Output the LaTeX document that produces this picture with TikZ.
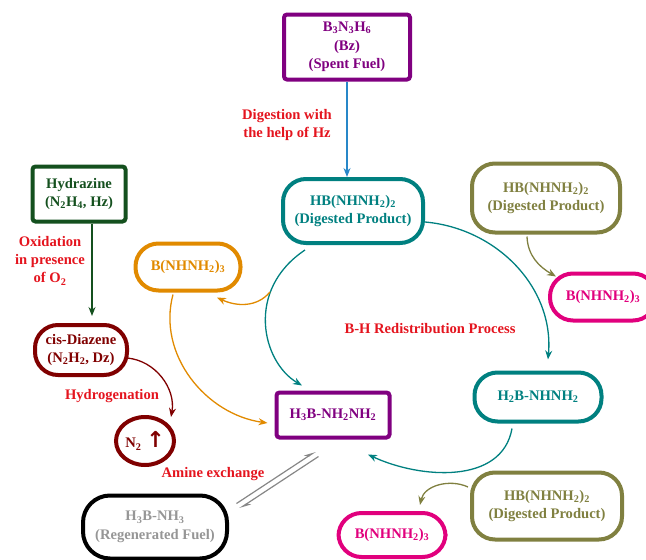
\documentclass[tikz,border=0pt]{standalone}
\usepackage{fontspec}
\setmainfont{Liberation Serif}
\newfontfamily\arrowfont{DejaVu Sans}
\usetikzlibrary{arrows.meta,shapes.geometric}
\newcommand{\chsub}[1]{\textsubscript{#1}}
\definecolor{fuelpurple}{RGB}{128,0,128}
\definecolor{digteal}{RGB}{0,128,128}
\definecolor{digblue}{RGB}{40,135,200}
\definecolor{hzgreen}{RGB}{20,80,30}
\definecolor{dzmaroon}{RGB}{128,0,0}
\definecolor{borange}{RGB}{225,138,0}
\definecolor{prodolive}{RGB}{128,128,64}
\definecolor{bmagenta}{RGB}{225,0,125}
\definecolor{labred}{RGB}{228,20,30}
\definecolor{fuelgray}{RGB}{150,150,150}
\tikzset{
  box/.style={draw, line width=4pt, align=center, inner sep=0pt,
    font=\fontsize{14.6}{18.5}\selectfont\bfseries},
  pill/.style={box, rounded corners=23pt},
  lbl/.style={text=labred, align=center, font=\fontsize{14.6}{18}\selectfont\bfseries},
  link/.style={line width=1.3pt, -{Stealth[length=9pt,width=7pt]}},
}
\begin{document}
\begin{tikzpicture}[x=1pt,y=1pt]
\useasboundingbox (0,0) rectangle (646,-560);
% boxes
\node[box, color=fuelpurple, rounded corners=3pt, minimum width=126pt, minimum height=65pt] (bz) at (347,-47) {B\chsub3N\chsub3H\chsub6\\(Bz)\\(Spent Fuel)};
\node[pill, color=digteal, minimum width=140pt, minimum height=64pt] (hbA) at (353,-211) {HB(NHNH\chsub2)\chsub2\\(Digested Product)};
\node[box, color=hzgreen, rounded corners=3pt, minimum width=93pt, minimum height=55pt] (hz) at (79,-194) {Hydrazine\\(N\chsub2H\chsub4, Hz)};
\node[pill, color=dzmaroon, minimum width=92pt, minimum height=50pt] (dz) at (81,-350) {cis-Diazene\\(N\chsub2H\chsub2, Dz)};
\node[box, ellipse, color=dzmaroon, minimum width=58pt, minimum height=48pt] (ntwo) at (145,-441) {N\chsub2\,\,{\arrowfont\fontsize{22}{22}\selectfont ↑}};
\node[pill, color=borange, minimum width=105pt, minimum height=47pt] (bo) at (188,-267) {B(NHNH\chsub2)\chsub3};
\node[box, color=fuelpurple, rounded corners=3pt, minimum width=113pt, minimum height=45pt] (hnh) at (333,-415) {H\chsub3B-NH\chsub2NH\chsub2};
\node[pill, color=digteal, minimum width=127pt, minimum height=49pt] (htwo) at (538,-397) {H\chsub2B-NHNH\chsub2};
\node[pill, color=prodolive, minimum width=148pt, minimum height=69pt] (hbB) at (546,-198) {HB(NHNH\chsub2)\chsub2\\(Digested Product)};
\node[pill, color=bmagenta, minimum width=106pt, minimum height=47pt] (bmA) at (603,-297) {B(NHNH\chsub2)\chsub3};
\node[pill, color=prodolive, minimum width=150pt, minimum height=67pt] (hbC) at (547,-506) {HB(NHNH\chsub2)\chsub2\\(Digested Product)};
\node[pill, color=bmagenta, minimum width=107pt, minimum height=44pt] (bmB) at (392,-535) {B(NHNH\chsub2)\chsub3};
\node[pill, draw=black, text=fuelgray, rounded corners=27pt, minimum width=144pt, minimum height=63pt] (amm) at (155,-527) {H\chsub3B-NH\chsub3\\(Regenerated Fuel)};
% labels
\node[lbl] (digest) at (287,-125) {Digestion with\\the help of Hz};
\node[lbl] (oxid) at (50,-261) {Oxidation\\in presence\\of O\chsub2};
\node[lbl] (hydro) at (112,-396) {Hydrogenation};
\node[lbl] (bhr) at (430,-329) {B-H Redistribution Process};
\node[lbl] (amine) at (213,-474) {Amine exchange};
% arrows
\draw[link, digblue] (bz.south) -- (bz.south |- hbA.north);
\draw[link, hzgreen] ([xshift=13pt]hz.south) -- ([xshift=13pt,yshift=7pt]hz.south |- dz.north);
\draw[link, dzmaroon] ([xshift=-2pt,yshift=-8pt]dz.east) to[out=-5,in=80] ([xshift=26pt,yshift=-2pt]ntwo.north);
\draw[link, digteal] ([xshift=24pt,yshift=-5pt]hbA.south west) .. controls (245,-290) and (262,-362) .. ([xshift=-31pt,yshift=5pt]hnh.north);
\draw[link, digteal] ([yshift=-11pt]hbA.east) to[out=-5,in=85] ([xshift=10pt,yshift=11pt]htwo.north);
\draw[link, digteal] ([xshift=-26pt,yshift=-5pt]htwo.south) to[out=-100,in=-25] ([xshift=35pt,yshift=-15pt]hnh.south);
\coordinate (split) at (270,-292);
\draw[link, borange] (split) to[out=-130,in=-25] ([xshift=29pt,yshift=-5pt]bo.south);
\draw[link, borange] ([xshift=-15pt,yshift=-2pt]bo.south) to[out=-105,in=172] ([xshift=-7pt,yshift=-8pt]hnh.west);
\draw[link, prodolive] ([xshift=-19pt,yshift=-2pt]hbB.south) to[out=-88,in=150] ([xshift=8pt,yshift=-5pt]bmA.north west);
\draw[link, prodolive] ([xshift=-2pt,yshift=19pt]hbC.west) to[out=155,in=78] ([xshift=28pt,yshift=6pt]bmB.north);
% equilibrium
\coordinate (eqlow) at (238,-506);
\coordinate (eqhigh) at (317,-454);
\draw[line width=1.2pt, fuelgray!90!black, -{Stealth[harpoon,length=10pt,width=6pt]}] ([shift={(-1.5pt,2.5pt)}]eqlow) -- ([shift={(-1.5pt,2.5pt)}]eqhigh);
\draw[line width=1.2pt, fuelgray!90!black, -{Stealth[harpoon,length=10pt,width=6pt]}] ([shift={(1.5pt,-2.5pt)}]eqhigh) -- ([shift={(1.5pt,-2.5pt)}]eqlow);
\end{tikzpicture}
\end{document}
